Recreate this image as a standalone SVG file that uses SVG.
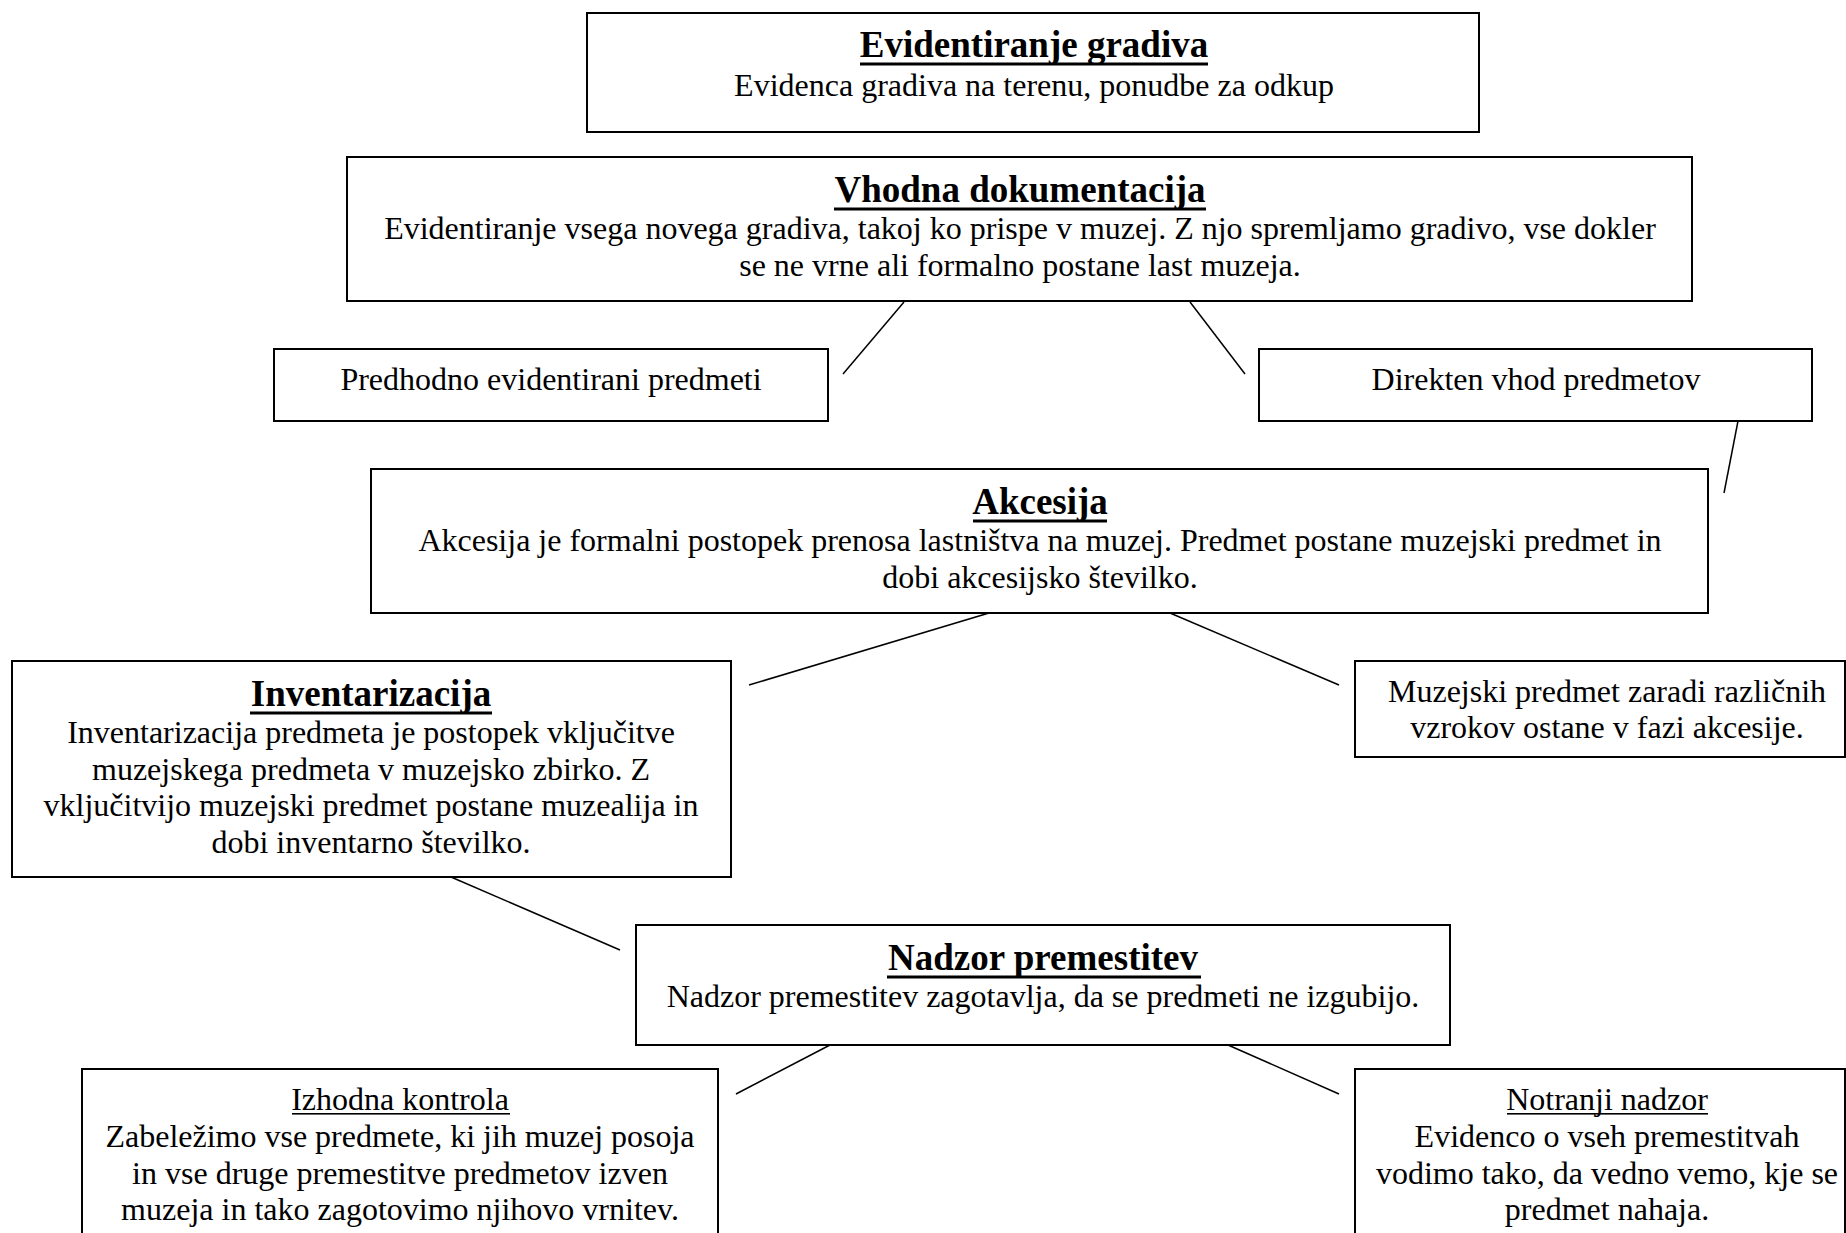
<svg xmlns="http://www.w3.org/2000/svg" width="1846" height="1233" viewBox="0 0 1846 1233">
<style>
.box{fill:#fff;stroke:#000;stroke-width:2}
.t{font-family:"Liberation Serif","Times New Roman",serif;font-size:37px;font-weight:bold;text-anchor:middle;fill:#000}
.b{font-family:"Liberation Serif","Times New Roman",serif;font-size:32px;text-anchor:middle;fill:#000}
.ul{fill:#000}
.c line{stroke:#000;stroke-width:1.5}
</style>
<rect width="1846" height="1233" fill="#fff"/>
<g class="c" id="connectors">
<line x1="904" y1="302" x2="843" y2="374"/>
<line x1="1190" y1="302" x2="1245" y2="374"/>
<line x1="1738" y1="421" x2="1724" y2="493"/>
<line x1="989" y1="613" x2="749" y2="685"/>
<line x1="1170" y1="613" x2="1339" y2="685"/>
<line x1="451" y1="877" x2="620" y2="950"/>
<line x1="830" y1="1045" x2="736" y2="1094"/>
<line x1="1228" y1="1045" x2="1339" y2="1094"/>
</g>
<g id="evidentiranje">
<rect class="box" x="587" y="13" width="892" height="119"/>
<text class="t" x="1034" y="57">Evidentiranje gradiva</text>
<rect class="ul" x="860" y="62.5" width="348" height="3"/>
<text class="b" x="1034" y="96">Evidenca gradiva na terenu, ponudbe za odkup</text>
</g>
<g id="vhodna">
<rect class="box" x="347" y="157" width="1345" height="144"/>
<text class="t" x="1020" y="202">Vhodna dokumentacija</text>
<rect class="ul" x="834" y="207.5" width="372" height="3"/>
<text class="b" x="1020" y="239">Evidentiranje vsega novega gradiva, takoj ko prispe v muzej. Z njo spremljamo gradivo, vse dokler</text>
<text class="b" x="1020" y="276">se ne vrne ali formalno postane last muzeja.</text>
</g>
<g id="predhodno">
<rect class="box" x="274" y="349" width="554" height="72"/>
<text class="b" x="551" y="390">Predhodno evidentirani predmeti</text>
</g>
<g id="direkten">
<rect class="box" x="1259" y="349" width="553" height="72"/>
<text class="b" x="1536" y="390">Direkten vhod predmetov</text>
</g>
<g id="akcesija">
<rect class="box" x="371" y="469" width="1337" height="144"/>
<text class="t" x="1040" y="514">Akcesija</text>
<rect class="ul" x="973" y="519.5" width="134" height="3"/>
<text class="b" x="1040" y="551">Akcesija je formalni postopek prenosa lastništva na muzej. Predmet postane muzejski predmet in</text>
<text class="b" x="1040" y="588">dobi akcesijsko številko.</text>
</g>
<g id="inventarizacija">
<rect class="box" x="12" y="661" width="719" height="216"/>
<text class="t" x="371" y="706">Inventarizacija</text>
<rect class="ul" x="250" y="711.5" width="242" height="3"/>
<text class="b" x="371" y="743">Inventarizacija predmeta je postopek vključitve</text>
<text class="b" x="371" y="780">muzejskega predmeta v muzejsko zbirko. Z</text>
<text class="b" x="371" y="816">vključitvijo muzejski predmet postane muzealija in</text>
<text class="b" x="371" y="853">dobi inventarno številko.</text>
</g>
<g id="muzejski">
<rect class="box" x="1355" y="661" width="490" height="96"/>
<text class="b" x="1607" y="702">Muzejski predmet zaradi različnih</text>
<text class="b" x="1607" y="738">vzrokov ostane v fazi akcesije.</text>
</g>
<g id="nadzor">
<rect class="box" x="636" y="925" width="814" height="120"/>
<text class="t" x="1043" y="970">Nadzor premestitev</text>
<rect class="ul" x="887" y="975.5" width="314" height="3"/>
<text class="b" x="1043" y="1007">Nadzor premestitev zagotavlja, da se predmeti ne izgubijo.</text>
</g>
<g id="izhodna">
<rect class="box" x="82" y="1069" width="636" height="180"/>
<text class="b" x="400" y="1110">Izhodna kontrola</text>
<rect class="ul" x="292" y="1113" width="218" height="1.6"/>
<text class="b" x="400" y="1147">Zabeležimo vse predmete, ki jih muzej posoja</text>
<text class="b" x="400" y="1184">in vse druge premestitve predmetov izven</text>
<text class="b" x="400" y="1220">muzeja in tako zagotovimo njihovo vrnitev.</text>
</g>
<g id="notranji">
<rect class="box" x="1355" y="1069" width="490" height="180"/>
<text class="b" x="1607" y="1110">Notranji nadzor</text>
<rect class="ul" x="1507" y="1113" width="201" height="1.6"/>
<text class="b" x="1607" y="1147">Evidenco o vseh premestitvah</text>
<text class="b" x="1607" y="1184">vodimo tako, da vedno vemo, kje se</text>
<text class="b" x="1607" y="1220">predmet nahaja.</text>
</g>
</svg>
